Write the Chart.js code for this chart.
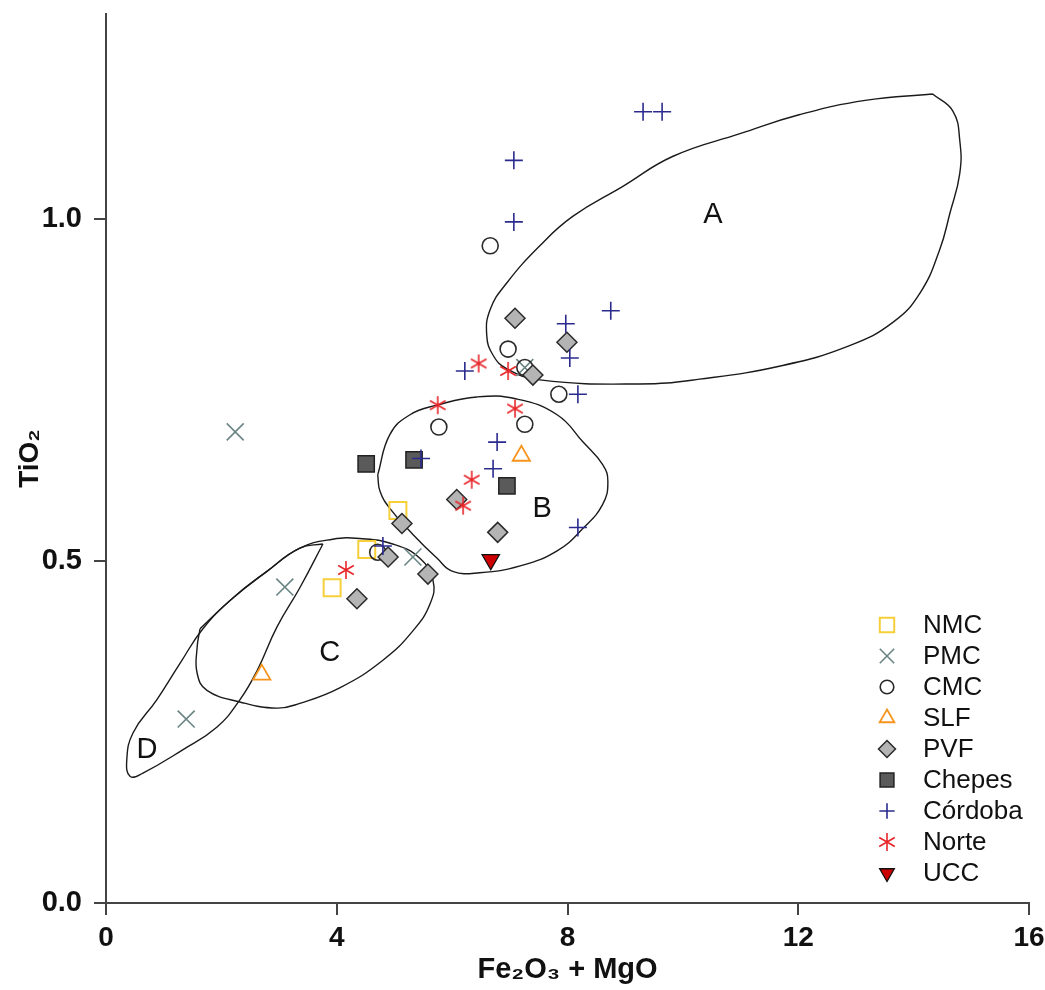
<!DOCTYPE html>
<html><head><meta charset="utf-8">
<script src="https://cdn.jsdelivr.net/npm/chart.js@4.4.1/dist/chart.umd.min.js"></script>
<style>html,body{margin:0;padding:0;background:#fff;}canvas{display:block;}</style>
</head><body>
<canvas id="c" width="1045" height="990"></canvas>
<script>
// ---- data ----
const xTicks = [0, 4, 8, 12, 16];
const yTicks = [0, 0.5, 1.0];
const seriesNames = ['NMC', 'PMC', 'CMC', 'SLF', 'PVF', 'Chepes', 'Córdoba', 'Norte', 'UCC'];
const NMC = [[5.06,0.574],[4.52,0.517],[3.92,0.461]];
const PMC = [[2.24,0.689],[3.10,0.462],[1.39,0.269],[5.32,0.506],[7.26,0.783]];
const CMC = [[6.66,0.961],[6.97,0.810],[7.26,0.783],[7.85,0.744],[5.77,0.696],[7.26,0.700],[4.71,0.513]];
const SLF = [[7.20,0.654],[2.70,0.334]];
const PVF = [[7.09,0.855],[7.99,0.820],[7.40,0.772],[6.08,0.590],[6.79,0.542],[5.13,0.555],[4.89,0.506],[5.58,0.481],[4.35,0.445]];
const Chepes = [[4.51,0.642],[5.34,0.648],[6.95,0.610]];
const Cordoba = [[9.31,1.157],[9.64,1.157],[7.07,1.086],[7.07,0.996],[8.75,0.866],[7.97,0.847],[8.04,0.797],[8.18,0.744],[6.22,0.778],[6.78,0.674],[5.46,0.650],[6.71,0.635],[8.18,0.549],[4.80,0.522]];
const Norte = [[6.46,0.789],[6.97,0.778],[5.75,0.728],[7.09,0.723],[6.34,0.619],[6.19,0.581],[4.16,0.487]];
const UCC = [[6.67,0.502]];
// field outlines
const regionA = [[14.33,1.183],[14.68,1.158],[14.80,1.115],[14.80,1.067],[14.63,1.009],[14.45,0.955],[14.11,0.892],[13.64,0.849],[12.89,0.815],[11.73,0.786],[10.29,0.766],[9.25,0.759],[7.52,0.765],[6.95,0.781],[6.71,0.801],[6.60,0.830],[6.66,0.868],[6.95,0.907],[7.52,0.961],[8.09,1.004],[8.96,1.048],[9.83,1.092],[10.99,1.125],[12.03,1.153],[13.19,1.174],[14.33,1.183]];
const regionB = [[4.71,0.626],[4.92,0.685],[5.27,0.714],[5.74,0.728],[6.43,0.740],[7.12,0.737],[7.82,0.714],[8.27,0.674],[8.61,0.641],[8.70,0.616],[8.61,0.583],[8.27,0.548],[7.82,0.515],[7.18,0.493],[6.48,0.483],[6.01,0.485],[5.74,0.504],[5.32,0.539],[4.92,0.577],[4.75,0.602],[4.71,0.626]];
const regionC = [[1.63,0.401],[2.20,0.446],[2.79,0.485],[3.36,0.519],[3.93,0.532],[4.40,0.533],[4.97,0.525],[5.44,0.504],[5.67,0.471],[5.62,0.438],[5.32,0.398],[4.80,0.355],[4.06,0.315],[3.36,0.292],[2.96,0.285],[2.32,0.294],[1.75,0.311],[1.58,0.336],[1.58,0.374],[1.63,0.401]];
const regionD = [[3.76,0.525],[3.36,0.461],[2.96,0.403],[2.62,0.340],[2.32,0.297],[1.92,0.257],[1.33,0.224],[0.64,0.190],[0.42,0.185],[0.36,0.209],[0.47,0.249],[0.88,0.297],[1.28,0.350],[1.68,0.401],[2.20,0.446],[2.79,0.485],[3.36,0.519],[3.76,0.525]];
const regionNames = ['A', 'B', 'C', 'D'];
const regionLabelAt = [[10.52,1.006],[7.56,0.576],[3.88,0.365],[0.71,0.224]];

// ---- styles ----
const FONT = "'Liberation Sans', Arial, sans-serif";
function makeAsterisk(color, size, lw) {
  const c = document.createElement('canvas');
  c.width = c.height = size;
  const g = c.getContext('2d');
  g.strokeStyle = color; g.lineWidth = lw;
  const m = size / 2, r = size / 2 - 1;
  g.beginPath();
  for (const a of [90, 30, 150]) {
    const t = a * Math.PI / 180;
    g.moveTo(m - r * Math.cos(t), m - r * Math.sin(t));
    g.lineTo(m + r * Math.cos(t), m + r * Math.sin(t));
  }
  g.stroke();
  return c;
}
const asterisk = makeAsterisk('#E8262A', 20, 1.6);
const styles = [
  {style:'rect', r:12, fill:'rgba(0,0,0,0)', stroke:'#F6CF3A', lw:2, rot:0},
  {style:'crossRot', r:12, fill:'rgba(0,0,0,0)', stroke:'#6B8585', lw:1.6, rot:0},
  {style:'circle', r:8, fill:'rgba(0,0,0,0)', stroke:'#2a2a2a', lw:1.6, rot:0},
  {style:'triangle', r:10, fill:'rgba(0,0,0,0)', stroke:'#F7941D', lw:1.8, rot:0},
  {style:'rectRot', r:10, fill:'#B4B4B4', stroke:'#2a2a2a', lw:1.5, rot:0},
  {style:'rect', r:11.5, fill:'#5A5A5A', stroke:'#222', lw:1.5, rot:0},
  {style:'cross', r:9, fill:'rgba(0,0,0,0)', stroke:'#2B2B8F', lw:1.6, rot:0},
  {style:asterisk, r:9, fill:'rgba(0,0,0,0)', stroke:'#E8262A', lw:1.6, rot:0},
  {style:'triangle', r:10, fill:'#CC0000', stroke:'#111', lw:1.3, rot:180}
];
const seriesData = [NMC, PMC, CMC, SLF, PVF, Chepes, Cordoba, Norte, UCC];
const toXY = a => a.map(p => ({x: p[0], y: p[1]}));

const datasets = seriesData.map((d, i) => ({
  label: seriesNames[i],
  data: toXY(d),
  pointStyle: styles[i].style,
  pointRadius: styles[i].r,
  pointHoverRadius: styles[i].r,
  pointRotation: styles[i].rot,
  backgroundColor: styles[i].fill,
  borderColor: styles[i].stroke,
  pointBorderWidth: styles[i].lw,
  borderWidth: styles[i].lw,
  showLine: false,
  order: 8 - i
}));
[regionA, regionB, regionC, regionD].forEach((reg, i) => datasets.push({
  label: 'region ' + regionNames[i],
  data: toXY(reg),
  showLine: true,
  borderColor: '#1a1a1a',
  borderWidth: 1.4,
  pointRadius: 0,
  pointHoverRadius: 0,
  tension: 0.45,
  fill: false,
  order: 20
}));

function drawMarker(ctx, s, x, y, r) {
  ctx.save();
  ctx.fillStyle = s.fill; ctx.strokeStyle = s.stroke; ctx.lineWidth = s.lw;
  ctx.translate(x, y);
  if (typeof s.style !== 'string') {
    ctx.drawImage(s.style, -s.style.width / 2, -s.style.height / 2);
    ctx.restore(); return;
  }
  ctx.rotate(s.rot * Math.PI / 180);
  ctx.beginPath();
  const k = Math.SQRT1_2 * r;
  switch (s.style) {
    case 'rect': ctx.rect(-k, -k, 2 * k, 2 * k); ctx.fill(); ctx.stroke(); break;
    case 'rectRot': ctx.moveTo(0, -r); ctx.lineTo(r, 0); ctx.lineTo(0, r); ctx.lineTo(-r, 0); ctx.closePath(); ctx.fill(); ctx.stroke(); break;
    case 'circle': ctx.arc(0, 0, r, 0, Math.PI * 2); ctx.fill(); ctx.stroke(); break;
    case 'triangle': ctx.moveTo(0, -r); ctx.lineTo(r * Math.sin(Math.PI / 3), r / 2); ctx.lineTo(-r * Math.sin(Math.PI / 3), r / 2); ctx.closePath(); ctx.fill(); ctx.stroke(); break;
    case 'cross': ctx.moveTo(-r, 0); ctx.lineTo(r, 0); ctx.moveTo(0, -r); ctx.lineTo(0, r); ctx.stroke(); break;
    case 'crossRot': ctx.moveTo(-k, -k); ctx.lineTo(k, k); ctx.moveTo(-k, k); ctx.lineTo(k, -k); ctx.stroke(); break;
  }
  ctx.restore();
}

const overlay = {
  id: 'overlay',
  afterDraw(chart) {
    const ctx = chart.ctx, xs = chart.scales.x, ys = chart.scales.y, ca = chart.chartArea;
    ctx.save();
    ctx.fillStyle = '#111';
    ctx.font = '29px ' + FONT;
    ctx.textAlign = 'center'; ctx.textBaseline = 'middle';
    regionNames.forEach((n, i) => {
      ctx.fillText(n, xs.getPixelForValue(regionLabelAt[i][0]), ys.getPixelForValue(regionLabelAt[i][1]));
    });
    // legend inside plot area, lower right
    const lx = ca.right - 142, ly0 = ca.bottom - 278, step = 31;
    ctx.font = '26px ' + FONT;
    ctx.textAlign = 'left';
    seriesNames.forEach((n, i) => {
      const y = ly0 + i * step;
      drawMarker(ctx, styles[i], lx, y, styles[i].r * 0.85);
      ctx.fillStyle = '#111';
      ctx.fillText(n, lx + 36, y + 1);
    });
    ctx.restore();
  }
};

new Chart(document.getElementById('c'), {
  type: 'scatter',
  data: { datasets },
  options: {
    responsive: false,
    animation: false,
    events: [],
    layout: { padding: { top: 10, right: 16, left: 0, bottom: 0 } },
    plugins: { legend: { display: false }, tooltip: { enabled: false } },
    scales: {
      x: {
        type: 'linear', position: 'bottom', min: 0, max: 16,
        afterBuildTicks: s => { s.ticks = xTicks.map(v => ({ value: v })); },
        afterFit: s => { s.height = 87; s.paddingLeft = 0; s.paddingRight = 0; },
        ticks: { font: { family: FONT, size: 28, weight: 'bold' }, color: '#111', padding: 6, maxRotation: 0, autoSkip: false, callback: v => String(v) },
        grid: { display: true, drawOnChartArea: false, drawTicks: true, tickLength: 12, color: '#444', lineWidth: 2 },
        border: { display: true, color: '#444', width: 2 },
        title: { display: true, text: 'Fe₂O₃ + MgO', font: { family: FONT, size: 29, weight: 'bold' }, color: '#111', padding: { top: 0, bottom: 3 } }
      },
      y: {
        type: 'linear', position: 'left', min: 0, max: 1.3,
        afterBuildTicks: s => { s.ticks = yTicks.map(v => ({ value: v })); },
        afterFit: s => { s.width = 106; s.paddingTop = 0; s.paddingBottom = 0; },
        ticks: { font: { family: FONT, size: 29, weight: 'bold' }, color: '#111', padding: 12, callback: v => Number(v).toFixed(1) },
        grid: { display: true, drawOnChartArea: false, drawTicks: true, tickLength: 12, color: '#444', lineWidth: 2 },
        border: { display: true, color: '#444', width: 2 },
        title: { display: true, text: 'TiO₂', font: { family: FONT, size: 28, weight: 'bold' }, color: '#111', padding: { top: 13, bottom: 0 } }
      }
    }
  },
  plugins: [overlay]
});
</script>
</body></html>
